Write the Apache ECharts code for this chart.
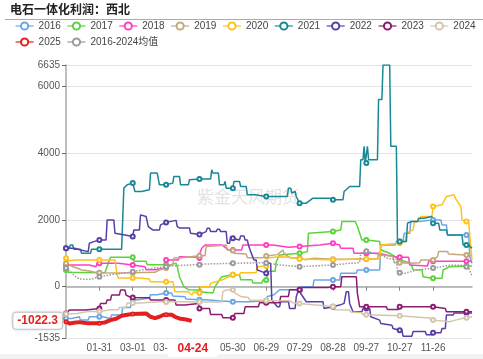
<!DOCTYPE html>
<html><head><meta charset="utf-8">
<script src="https://cdn.jsdelivr.net/npm/echarts/dist/echarts.min.js"></script>
<style>html,body{margin:0;padding:0;background:#fff}#c{width:483px;height:359px}</style>
</head><body><div id="c"></div>
<script>
// ---- category labels (leap-year calendar, MM-DD) ----
const monthDays = [31,29,31,30,31,30,31,31,30,31,30,31];
const dates = [];
monthDays.forEach((n, m) => { for (let d = 1; d <= n; d++) dates.push(String(m + 1).padStart(2, '0') + '-' + String(d).padStart(2, '0')); });

const seriesNames = ['2016','2017','2018','2019','2020','2021','2022','2023','2024','2025','2016-2024均值'];
const colors = ['#6aa6e6','#5cd23c','#ff3ec6','#c4a87c','#ffc21a','#188894','#5a3ea6','#8c1c70','#d4c6ac','#e3201f','#9a9a9a'];

// ---- data: [dayIndex, value] ----
const d2016 = [[0,-950],[5,-950],[6,-900],[12,-900],[13,-1000],[20,-1000],[21,-900],[30,-900],[33,-900],[34,-950],[40,-950],[41,-850],[50,-850],[51,-620],[58,-620],[59,-390],[60,-390],[65,-390],[66,-340],[75,-340],[76,-240],[82,-240],[83,-190],[90,-190],[95,-190],[96,-280],[107,-300],[108,-370],[120,-390],[125,-390],[137,-420],[138,-450],[150,-450],[165,-450],[166,-420],[180,-420],[181,-290],[187,-240],[192,-90],[210,-90],[211,0],[222,0],[223,200],[240,200],[246,200],[247,400],[261,400],[262,500],[270,500],[282,500],[283,1250],[296,1250],[297,1350],[300,1350],[303,1350],[304,1600],[309,1600],[310,1950],[318,1950],[319,2000],[330,2000],[337,2000],[338,1850],[342,1850],[343,1550],[360,1550],[362,1550],[363,900],[365,700]];
const d2017 = [[0,500],[2,430],[30,420],[35,420],[38,700],[40,880],[41,900],[60,880],[61,760],[72,760],[73,660],[90,660],[94,660],[95,700],[99,700],[100,600],[102,300],[104,150],[106,0],[110,-90],[117,-100],[118,-150],[120,-150],[132,-190],[133,-100],[134,0],[137,150],[140,300],[150,360],[156,360],[157,210],[167,210],[168,110],[176,110],[177,200],[180,200],[182,460],[188,460],[189,750],[192,950],[210,1000],[217,1050],[218,1600],[240,1650],[247,1700],[248,1950],[260,1950],[262,1800],[266,1400],[270,1400],[282,1350],[283,1100],[291,1000],[296,900],[300,800],[310,700],[312,509],[320,500],[321,300],[329,250],[330,250],[338,250],[339,500],[345,600],[360,620],[365,620]];
const d2018 = [[0,650],[21,650],[22,600],[27,600],[28,700],[30,700],[47,700],[48,650],[60,650],[61,600],[71,600],[72,510],[80,510],[81,560],[89,560],[90,800],[101,800],[102,900],[119,880],[120,860],[122,1150],[125,1250],[140,1250],[141,1200],[146,1100],[150,1100],[158,1100],[159,1250],[180,1250],[186,1250],[187,1200],[200,1180],[210,1200],[228,1250],[229,1300],[240,1300],[246,1250],[247,1150],[258,1150],[259,1000],[270,1000],[281,1000],[282,950],[295,900],[300,880],[308,880],[309,650],[325,620],[326,760],[330,760],[360,760],[365,760]];
const d2019 = [[0,700],[3,650],[6,600],[10,560],[14,500],[20,480],[26,430],[30,420],[48,410],[60,420],[80,430],[84,500],[90,560],[91,650],[96,650],[97,860],[102,860],[103,910],[120,930],[125,930],[126,1200],[144,1250],[145,1100],[150,1080],[151,1000],[162,980],[163,870],[177,870],[178,920],[180,920],[190,960],[195,1100],[196,1000],[201,870],[210,860],[215,810],[223,850],[240,820],[250,820],[270,820],[280,830],[281,1000],[285,950],[294,900],[295,720],[300,720],[310,700],[318,720],[319,800],[330,800],[334,900],[335,1050],[343,1050],[344,980],[355,960],[360,950],[365,930]];
const d2020 = [[0,850],[3,780],[8,800],[30,800],[44,800],[46,350],[47,260],[60,260],[66,260],[67,230],[75,230],[76,150],[90,150],[96,150],[97,0],[98,-150],[110,-150],[113,-250],[115,-150],[118,-200],[120,-190],[121,0],[129,0],[130,100],[140,200],[141,250],[147,300],[148,360],[150,360],[156,360],[157,420],[171,420],[172,600],[180,620],[181,860],[192,900],[201,880],[210,830],[237,810],[240,810],[263,830],[270,830],[282,830],[283,1250],[299,1300],[300,1300],[305,1350],[306,1600],[312,1700],[313,1900],[318,2000],[319,2100],[329,2100],[330,2400],[338,2450],[342,2700],[349,2750],[350,2650],[355,2400],[356,2000],[360,1950],[362,1950],[364,1150],[365,800]];
const d2021 = [[0,1150],[3,1150],[4,1250],[6,1250],[7,1120],[13,1120],[14,1000],[22,1000],[23,1120],[30,1120],[50,1120],[52,2950],[55,3050],[60,3100],[61,3100],[62,2850],[68,2850],[69,2900],[75,2900],[76,3400],[82,3400],[84,3050],[90,3050],[91,3100],[96,3100],[97,3300],[102,3300],[103,3050],[110,3050],[111,3200],[120,3220],[130,3220],[131,3500],[132,3400],[137,3400],[138,3050],[142,3050],[143,3150],[144,2950],[150,2950],[151,3150],[156,3150],[157,3000],[162,3000],[163,2750],[170,2750],[171,2700],[180,2700],[199,2700],[200,2950],[202,2950],[203,2800],[206,2850],[207,2700],[210,2500],[216,2500],[222,2650],[237,2650],[240,2600],[249,2600],[250,2850],[255,3000],[264,3000],[265,3800],[267,3800],[268,4200],[269,3700],[270,3700],[271,4200],[272,3800],[280,3800],[281,5600],[284,5600],[285,6635],[291,6635],[292,4200],[297,4200],[298,1350],[300,1350],[306,1350],[307,1900],[310,1950],[316,1950],[317,2050],[322,2050],[323,2100],[329,2100],[330,1900],[335,1900],[336,1700],[342,1700],[343,1550],[356,1550],[357,1250],[360,1250],[362,1250],[365,1150]];
const d2022 = [[0,1150],[8,1150],[9,1100],[13,1100],[14,1050],[20,1050],[21,1300],[25,1350],[30,1400],[36,1400],[37,2000],[43,2000],[44,1600],[53,1550],[60,1500],[61,1700],[66,1700],[67,2150],[72,2100],[73,2150],[74,1800],[78,1700],[84,1700],[85,1850],[90,1925],[99,1985],[100,1800],[102,1760],[111,1760],[112,1600],[120,1560],[126,1650],[127,1750],[129,1750],[130,1650],[135,1650],[136,1720],[138,1720],[139,1650],[144,1650],[145,1300],[147,1300],[148,1500],[150,1450],[156,1400],[157,1520],[160,1520],[161,1400],[163,1400],[164,1250],[166,1050],[169,800],[171,800],[172,500],[176,450],[180,400],[181,400],[182,700],[184,700],[185,-400],[190,-600],[192,-600],[193,-450],[200,-450],[201,-650],[206,-650],[207,-300],[209,-100],[210,-100],[213,-300],[216,-450],[225,-450],[231,-450],[232,-650],[240,-600],[246,-550],[250,-500],[252,-150],[254,-150],[255,-500],[258,-750],[266,-750],[267,-650],[270,-650],[273,-650],[274,-900],[282,-1000],[283,-1100],[293,-1150],[294,-1250],[300,-1300],[302,-1300],[303,-1480],[311,-1480],[312,-1340],[323,-1340],[324,-1440],[329,-1440],[330,-1380],[337,-1380],[338,-1250],[341,-1250],[342,-850],[348,-850],[349,-790],[360,-790],[365,-790]];
const d2023 = [[0,-800],[3,-700],[18,-700],[19,-650],[30,-650],[31,-500],[36,-500],[37,-400],[40,-400],[41,-250],[48,-250],[49,-100],[53,-100],[54,-250],[57,-300],[60,-320],[75,-330],[76,-400],[90,-400],[98,-400],[99,-550],[107,-550],[108,-500],[119,-500],[120,-650],[129,-650],[130,-830],[140,-830],[141,-930],[150,-930],[151,-930],[152,-800],[160,-800],[161,-600],[173,-600],[174,-480],[180,-480],[192,-480],[193,-290],[200,-290],[201,-90],[210,-90],[211,-20],[236,-20],[237,0],[240,0],[247,0],[248,300],[261,300],[262,-200],[264,-600],[270,-600],[288,-600],[289,-680],[299,-680],[300,-600],[330,-600],[331,-650],[341,-650],[342,-750],[360,-750],[365,-750]];
const d2024 = [[0,-820],[10,-800],[20,-740],[30,-740],[40,-690],[47,-690],[48,-620],[54,-620],[55,-490],[60,-490],[66,-490],[67,-440],[89,-440],[90,-460],[120,-460],[140,-460],[141,-140],[145,-90],[150,-90],[151,-90],[152,-190],[157,-290],[158,-320],[164,-320],[165,-400],[180,-410],[201,-420],[204,-480],[210,-500],[222,-540],[223,-590],[240,-590],[241,-690],[255,-700],[256,-760],[266,-780],[267,-840],[270,-840],[300,-870],[301,-900],[320,-920],[327,-940],[328,-1000],[330,-1000],[345,-1050],[350,-1000],[356,-950],[360,-930],[365,-900]];
const d2025 = [[0,-1050],[3,-1100],[7,-1080],[12,-1060],[16,-1080],[19,-1090],[28,-1090],[30,-1090],[35,-1070],[40,-1000],[45,-960],[50,-870],[55,-840],[60,-820],[66,-810],[72,-800],[76,-900],[80,-940],[84,-900],[88,-840],[90,-840],[95,-840],[98,-900],[103,-960],[108,-980],[113,-1022.3]];
const dMean = [[0,560],[4,450],[8,320],[12,230],[22,220],[30,300],[45,380],[55,420],[60,450],[65,480],[80,560],[90,600],[95,620],[110,650],[120,660],[125,680],[150,700],[175,720],[180,710],[192,650],[210,600],[240,650],[255,700],[264,720],[265,1000],[270,1060],[282,960],[290,840],[297,820],[298,430],[300,420],[305,400],[315,500],[330,560],[345,640],[355,640],[360,600],[362,560],[365,320]];

const allData = [d2016,d2017,d2018,d2019,d2020,d2021,d2022,d2023,d2024,d2025,dMean];
const currentDay = '04-24';
const currentValue = -1022.3;

const numFont = '"Liberation Sans", "Noto Sans CJK SC", sans-serif';
const labelIdx = i => i > 0 && i <= 330 && i % 30 === 0;

const series = allData.map((data, k) => {
  const isCur = k === 9, isMean = k === 10;
  return {
    name: seriesNames[k], type: 'line', data,
    xAxisIndex: 0, yAxisIndex: 0,
    symbol: 'emptyCircle', showSymbol: true, showAllSymbol: true,
    symbolSize: v => (v[0] % 30 === 0 ? (isCur ? 3 : 4) : 0),
    lineStyle: { width: isCur ? 4 : 1.5, color: colors[k], type: isMean ? 'dotted' : 'solid' },
    itemStyle: { color: colors[k], borderWidth: 1 },
    emphasis: { disabled: true },
    z: isCur ? 5 : 2
  };
});

const chart = echarts.init(document.getElementById('c'), null, { renderer: 'canvas' });
chart.setOption({
  animation: false,
  backgroundColor: '#fff',
  color: colors,
  title: { text: '电石一体化利润：西北', left: 8, top: 1, padding: [2, 2], textStyle: { fontSize: 12, fontWeight: 'bold', color: '#222', fontFamily: '"Noto Sans CJK SC", sans-serif' } },
  legend: {
    left: 15, top: 21, right: 0, padding: 0, itemWidth: 18, itemHeight: 9, itemGap: 6,
    textStyle: { fontSize: 10, color: '#444', fontFamily: numFont },
    lineStyle: { width: 1.2, type: 'solid' },
    itemStyle: { borderWidth: 1 },
    data: seriesNames
  },
  grid: { left: 66, right: 11, top: 65, bottom: 21 },
  xAxis: [
    {
      type: 'category', data: dates, boundaryGap: false, position: 'bottom',
      axisLine: { show: false, onZero: false }, axisTick: { show: false },
      axisLabel: { interval: (i) => labelIdx(i), color: '#555', fontSize: 10, margin: 5, fontFamily: numFont },
      splitLine: { show: false },
      axisPointer: {
        show: true, status: 'show', value: dates.indexOf(currentDay), type: 'line', triggerTooltip: false,
        lineStyle: { opacity: 0 },
        label: { show: true, color: '#e3201f', fontWeight: 'bold', fontSize: 12, fontFamily: numFont, backgroundColor: '#fff', padding: [2, 10], borderWidth: 0, shadowBlur: 0, margin: 3 }
      }
    },
    {
      type: 'category', data: dates, boundaryGap: false, position: 'top',
      axisLine: { show: true, onZero: true, lineStyle: { color: '#aaa', width: 1.5 } },
      axisTick: { show: true, inside: true, length: 4, interval: (i) => labelIdx(i), lineStyle: { color: '#888' } },
      axisLabel: { show: false }, splitLine: { show: false }
    }
  ],
  yAxis: {
    type: 'value', min: -1535, max: 6635,
    axisLine: { show: true, lineStyle: { color: '#aaa', width: 1.5 } },
    axisTick: { show: true, length: 4, lineStyle: { color: '#666' } },
    axisLabel: { color: '#555', fontSize: 10, margin: 6, fontFamily: numFont, formatter: v => String(v) },
    splitLine: { lineStyle: { color: '#e2e2e2' } },
    axisPointer: {
      show: true, status: 'show', value: currentValue, type: 'line', triggerTooltip: false,
      lineStyle: { opacity: 0 },
      label: { show: true, formatter: p => Number(p.value).toFixed(1), color: '#e3201f', fontWeight: 'bold', fontSize: 12, fontFamily: numFont,
               backgroundColor: '#fff', borderColor: '#ccc', borderWidth: 1, borderRadius: 3, padding: [2, 4], shadowBlur: 3, shadowColor: 'rgba(0,0,0,0.15)', margin: 4 }
    }
  },
  graphic: [
    { type: 'line', shape: { x1: 5, y1: 19.5, x2: 483, y2: 19.5 }, style: { stroke: '#aaa', lineWidth: 1 }, silent: true },
    { type: 'text', left: 197, top: 188, z: 0, style: { text: '紫金天风期货', font: '17px "Noto Sans CJK SC"', fill: 'rgba(190,190,190,0.45)' }, silent: true },
    { type: 'rect', shape: { x: 0, y: 354, width: 483, height: 5 }, style: { fill: '#f2f2f2' }, silent: true }
  ],
  series
});
</script>
</body></html>
